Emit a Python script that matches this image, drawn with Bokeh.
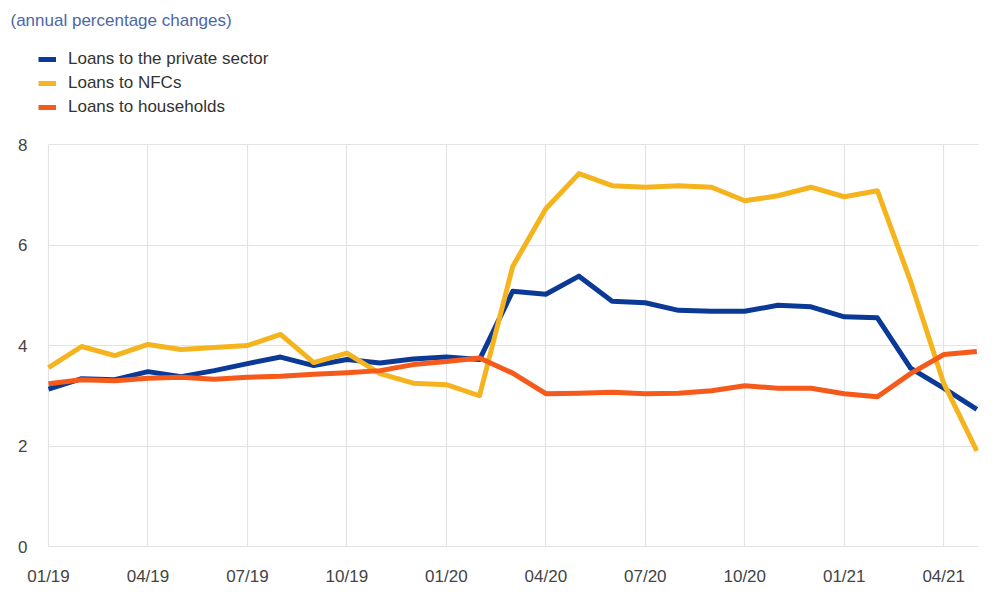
from bokeh.plotting import figure
from bokeh.models import Legend, LegendItem, Label, FixedTicker, Range1d, BoxAnnotation
from bokeh.embed import file_html
from bokeh.resources import INLINE

# Monthly data, 01/19 .. 05/21
months = list(range(29))
tick_positions = [0, 3, 6, 9, 12, 15, 18, 21, 24, 27]
tick_labels = ["01/19", "04/19", "07/19", "10/19", "01/20", "04/20", "07/20", "10/20", "01/21", "04/21"]
y_ticks = [0, 2, 4, 6, 8]

private_sector = [3.13, 3.34, 3.32, 3.48, 3.38, 3.50, 3.64, 3.77, 3.60, 3.72, 3.65, 3.73, 3.77, 3.72,
                  5.08, 5.02, 5.38, 4.88, 4.85, 4.70, 4.68, 4.68, 4.80, 4.77, 4.57, 4.55, 3.55, 3.15, 2.73]
nfcs = [3.56, 3.98, 3.80, 4.02, 3.92, 3.96, 4.00, 4.22, 3.66, 3.85, 3.44, 3.25, 3.22, 3.00,
        5.57, 6.72, 7.42, 7.18, 7.15, 7.18, 7.15, 6.88, 6.98, 7.15, 6.96, 7.08, 5.28, 3.25, 1.90]
households = [3.24, 3.32, 3.30, 3.35, 3.37, 3.33, 3.37, 3.39, 3.43, 3.46, 3.50, 3.62, 3.68, 3.75,
              3.45, 3.04, 3.05, 3.07, 3.04, 3.05, 3.10, 3.20, 3.15, 3.15, 3.04, 2.98, 3.44, 3.82, 3.88]

series_names = ["Loans to the private sector", "Loans to NFCs", "Loans to households"]
series_colors = ["#0b3a96", "#f5b41e", "#f55a1a"]
title_text = "(annual percentage changes)"

FONT = "Liberation Sans"

# geometry (pixels)
W, H = 1006, 596
PLOT_LEFT, PLOT_RIGHT, PLOT_TOP, ZERO_Y = 48, 978, 144, 546
FRAME_BOTTOM = 558
x_end = 28.05
px_per_x = (PLOT_RIGHT - PLOT_LEFT) / x_end
x_start = -PLOT_LEFT / px_per_x
px_per_y = (ZERO_Y - PLOT_TOP) / 8
y_top = ZERO_Y / px_per_y
y_start = -(FRAME_BOTTOM - ZERO_Y) / px_per_y

p = figure(width=W, height=H, output_backend="svg", toolbar_location=None,
           x_range=Range1d(x_start, x_end), y_range=Range1d(y_start, y_top),
           min_border_left=0, min_border_right=W - PLOT_RIGHT, min_border_top=0,
           min_border_bottom=H - FRAME_BOTTOM)
p.outline_line_color = None
p.background_fill_color = "white"
p.border_fill_color = "white"

# grids limited to the data area
p.xgrid.grid_line_color = "#e3e3e3"
p.ygrid.grid_line_color = "#e3e3e3"
p.xgrid.grid_line_width = 1.2
p.ygrid.grid_line_width = 1.2
p.xgrid.ticker = FixedTicker(ticks=tick_positions)
p.ygrid.ticker = FixedTicker(ticks=y_ticks)
try:
    p.xgrid[0].cross_bounds = (0, 8)
    p.ygrid[0].cross_bounds = (0, x_end)
except Exception:
    p.add_layout(BoxAnnotation(bottom=8.03, fill_color="white", fill_alpha=1, line_color=None, level="underlay"))
    p.add_layout(BoxAnnotation(top=-0.03, fill_color="white", fill_alpha=1, line_color=None, level="underlay"))
    p.add_layout(BoxAnnotation(right=-0.03, fill_color="white", fill_alpha=1, line_color=None, level="underlay"))

renderers = []
for ys, c in zip([private_sector, nfcs, households], series_colors):
    r = p.line(months, ys, line_color=c, line_width=5, line_join="round")
    renderers.append(r)

# axes
p.xaxis.ticker = FixedTicker(ticks=tick_positions)
p.xaxis.major_label_overrides = {t: l for t, l in zip(tick_positions, tick_labels)}
p.yaxis.ticker = FixedTicker(ticks=y_ticks)
p.yaxis.fixed_location = 0
for ax in (p.xaxis[0], p.yaxis[0]):
    ax.axis_line_color = None
    ax.major_tick_line_color = None
    ax.minor_tick_line_color = None
    ax.major_label_text_font = FONT
    ax.major_label_text_font_size = "17px"
    ax.major_label_text_color = "#444444"
p.xaxis.major_label_standoff = 2
p.yaxis.major_label_standoff = 15

legend = Legend(items=[LegendItem(label=n, renderers=[r]) for n, r in zip(series_names, renderers)],
                location=(38, FRAME_BOTTOM - 117), padding=0, spacing=4, margin=0,
                label_height=20, glyph_height=20, glyph_width=18, label_standoff=12,
                border_line_color=None, background_fill_alpha=0,
                label_text_font=FONT, label_text_font_size="17px", label_text_color="#333333")
p.add_layout(legend, "center")

title = Label(x=10, y=FRAME_BOTTOM - 20, x_units="screen", y_units="screen", text=title_text,
              text_baseline="middle", text_font=FONT, text_font_size="17px", text_color="#4a67a8")
p.add_layout(title)

open("out.html", "w").write(file_html(p, INLINE))
